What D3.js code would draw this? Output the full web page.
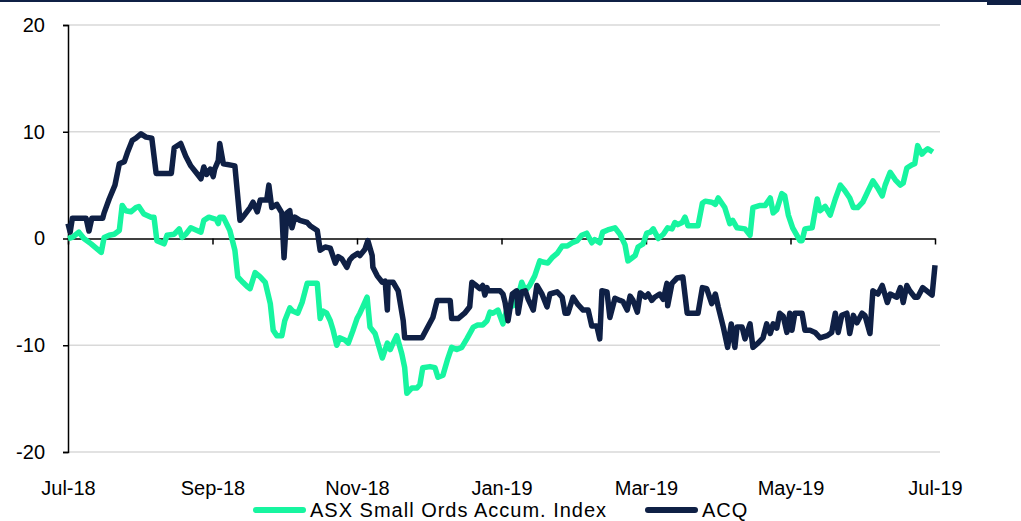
<!DOCTYPE html>
<html>
<head>
<meta charset="utf-8">
<script src="https://cdn.jsdelivr.net/npm/d3@7"></script>
<style>
  body { margin: 0; background: #fff; }
  text { font-family: "Liberation Sans", Arial, sans-serif; }
</style>
</head>
<body>
<div id="chart"></div>
<script>
// x positions are months since Jul-18 (0 .. 12)
const tickLabels = ["Jul-18", "Sep-18", "Nov-18", "Jan-19", "Mar-19", "May-19", "Jul-19"];
const tickMonths = [0, 2, 4, 6, 8, 10, 12];
const yTicks = [-20, -10, 0, 10, 20];
const seriesNames = ["ASX Small Ords Accum. Index", "ACQ"];

const asxMonths = [0.00,0.06,0.15,0.22,0.32,0.46,0.50,0.57,0.64,0.71,0.75,0.80,0.87,0.94,0.98,1.05,1.15,1.19,1.23,1.33,
  1.37,1.47,1.54,1.58,1.63,1.70,1.77,1.84,1.88,1.95,2.05,2.08,2.10,2.15,2.24,2.31,2.35,2.42,2.48,2.52,
  2.59,2.66,2.73,2.80,2.84,2.89,2.96,3.00,3.07,3.11,3.18,3.24,3.31,3.45,3.49,3.53,3.58,3.63,3.67,3.72,
  3.76,3.83,3.88,3.94,4.00,4.04,4.08,4.14,4.18,4.25,4.35,4.42,4.46,4.50,4.55,4.62,4.66,4.69,4.76,4.83,
  4.87,4.91,5.01,5.08,5.12,5.19,5.25,5.31,5.38,5.45,5.52,5.61,5.67,5.74,5.80,5.84,5.88,5.95,6.02,6.08,
  6.16,6.23,6.28,6.33,6.39,6.46,6.53,6.57,6.64,6.70,6.77,6.84,6.91,6.98,7.05,7.11,7.18,7.25,7.29,7.36,
  7.40,7.47,7.57,7.64,7.71,7.75,7.81,7.85,7.89,7.96,8.01,8.06,8.10,8.17,8.24,8.30,8.36,8.40,8.44,8.50,
  8.54,8.58,8.72,8.78,8.82,8.91,8.96,9.00,9.09,9.16,9.20,9.26,9.37,9.44,9.48,9.58,9.65,9.72,9.76,9.81,
  9.88,9.92,9.97,10.03,10.13,10.16,10.20,10.30,10.37,10.41,10.48,10.55,10.62,10.69,10.75,10.82,10.87,10.93,11.00,11.07,
  11.14,11.21,11.27,11.31,11.38,11.45,11.52,11.56,11.61,11.68,11.72,11.76,11.82,11.86,11.90,11.97];
const asxValues = [0.0,0.1,0.6,0.0,-0.5,-1.3,0.1,0.3,0.4,0.75,3.1,2.6,2.5,2.9,3.0,2.3,2.0,2.0,-0.2,-0.5,
  0.3,0.4,0.9,0.1,0.4,1.0,0.8,0.6,1.7,2.0,1.8,1.4,2.0,2.0,0.75,-1.1,-3.6,-4.1,-4.5,-4.7,
  -3.2,-3.6,-4.1,-6.1,-8.6,-9.1,-9.1,-7.7,-6.5,-6.8,-7.0,-6.0,-4.2,-4.2,-7.5,-6.8,-7.0,-7.7,-8.6,-10.0,
  -9.3,-9.5,-9.8,-8.7,-7.5,-7.0,-6.4,-5.5,-8.3,-8.9,-11.2,-9.8,-10.4,-9.8,-9.1,-10.8,-12.1,-14.5,-14.0,-14.0,
  -13.7,-12.1,-12.0,-12.1,-13.0,-12.8,-11.4,-10.2,-10.4,-10.2,-9.4,-8.3,-8.1,-8.1,-7.7,-6.9,-7.0,-6.7,-8.0,-6.5,
  -6.3,-5.4,-4.1,-4.9,-4.4,-3.5,-2.1,-2.2,-2.3,-1.8,-1.4,-0.7,-0.7,-0.4,-0.2,0.3,0.5,-0.4,-0.1,-0.4,
  0.6,0.8,1.0,0.4,-0.6,-2.1,-1.8,-1.6,-0.8,-0.5,0.5,0.6,0.9,0.0,0.4,1.0,0.9,1.5,1.3,1.5,
  2.0,1.2,1.2,3.3,3.5,3.4,3.2,3.8,2.9,1.4,1.7,1.0,0.9,0.3,2.9,3.1,3.1,3.8,2.4,2.7,
  4.2,4.0,2.2,1.0,-0.2,-0.2,0.9,1.0,3.7,2.6,3.0,2.2,3.7,5.0,4.5,3.8,2.9,2.9,3.4,4.4,
  5.4,4.7,4.0,5.0,6.2,5.5,5.0,5.2,6.6,6.9,7.0,8.7,7.9,8.2,8.4,8.1];

const acqMonths = [0.00,0.03,0.06,0.25,0.29,0.33,0.48,0.50,0.57,0.65,0.71,0.78,0.82,0.89,0.94,1.01,1.08,1.16,1.22,1.43,
  1.47,1.56,1.63,1.70,1.77,1.84,1.88,1.92,1.97,2.01,2.03,2.08,2.10,2.15,2.31,2.38,2.42,2.52,2.56,2.62,
  2.66,2.75,2.78,2.82,2.89,2.96,2.99,3.03,3.07,3.10,3.14,3.21,3.31,3.35,3.45,3.49,3.56,3.63,3.70,3.74,
  3.79,3.86,3.90,3.94,4.01,4.04,4.11,4.15,4.21,4.22,4.28,4.35,4.39,4.42,4.43,4.50,4.57,4.64,4.66,4.90,
  4.97,5.05,5.11,5.29,5.31,5.40,5.49,5.56,5.59,5.63,5.70,5.74,5.77,5.80,5.81,5.98,6.02,6.05,6.09,6.15,
  6.21,6.23,6.28,6.33,6.37,6.44,6.49,6.56,6.63,6.67,6.77,6.84,6.88,6.92,6.99,7.06,7.13,7.20,7.25,7.32,
  7.36,7.39,7.46,7.50,7.57,7.64,7.68,7.74,7.78,7.82,7.88,7.92,7.99,8.03,8.08,8.12,8.19,8.24,8.29,8.30,
  8.36,8.43,8.51,8.57,8.72,8.78,8.84,8.91,8.96,9.00,9.07,9.13,9.18,9.23,9.26,9.33,9.37,9.44,9.48,9.55,
  9.62,9.67,9.72,9.76,9.81,9.85,9.90,9.95,9.99,10.02,10.06,10.16,10.20,10.27,10.34,10.41,10.51,10.57,10.62,10.66,
  10.71,10.78,10.82,10.87,10.92,10.99,11.03,11.10,11.14,11.21,11.27,11.34,11.38,11.47,11.52,11.56,11.61,11.65,11.72,11.76,
  11.83,11.96,12.00];
const acqValues = [1.4,0.6,1.9,1.9,0.7,1.9,1.9,2.4,3.7,5.0,7.0,7.2,8.0,9.2,9.4,9.8,9.5,9.4,6.1,6.1,
  8.5,8.9,7.7,6.8,6.2,5.6,6.7,6.0,6.5,5.8,6.5,7.3,8.9,7.0,6.8,1.7,2.0,2.9,3.4,2.5,
  3.6,3.6,5.0,2.9,3.2,2.4,-1.8,2.4,2.6,1.0,2.0,1.7,1.5,1.2,0.75,-1.1,-0.8,-0.9,-2.3,-1.7,
  -1.9,-2.7,-2.0,-1.7,-1.4,-1.6,-1.0,-0.2,-1.6,-2.7,-3.5,-4.1,-4.0,-6.7,-4.1,-4.1,-4.9,-7.7,-9.3,-9.3,
  -8.4,-7.4,-5.8,-5.8,-7.5,-7.5,-7.0,-6.4,-4.1,-4.3,-4.7,-4.4,-5.3,-4.6,-4.9,-4.9,-5.2,-6.0,-7.7,-5.2,
  -4.9,-7.0,-5.0,-4.9,-5.7,-6.7,-4.4,-5.2,-6.4,-5.2,-5.0,-5.5,-7.0,-7.0,-5.5,-6.2,-6.7,-6.7,-8.2,-8.2,
  -9.4,-4.9,-5.0,-7.4,-5.6,-5.8,-5.9,-6.7,-5.4,-5.8,-6.9,-5.1,-5.5,-5.2,-5.8,-5.5,-5.2,-5.7,-4.2,-6.3,
  -4.2,-3.7,-3.6,-7.0,-7.0,-4.6,-4.7,-6.1,-5.2,-6.4,-8.3,-10.2,-8.0,-10.2,-8.3,-8.3,-9.4,-8.0,-10.2,-9.8,
  -9.3,-8.0,-8.9,-8.0,-8.4,-7.0,-7.3,-8.8,-7.0,-8.6,-7.0,-7.0,-8.6,-8.6,-8.8,-9.3,-9.1,-8.8,-7.0,-8.8,
  -7.2,-7.0,-8.9,-7.2,-7.9,-7.0,-7.2,-8.9,-4.9,-5.2,-4.4,-6.0,-5.2,-5.5,-4.6,-6.0,-4.4,-4.9,-5.5,-5.5,
  -4.6,-5.3,-2.5];

const green = "#17F5A0";
const navy = "#0F2045";

const W = 1021, H = 521;
const svg = d3.select("#chart").append("svg").attr("width", W).attr("height", H);

const x = d3.scaleLinear().domain([0, 12]).range([68, 935]);
const y = d3.scaleLinear().domain([-20, 20]).range([452, 25]);

// top banner line
svg.append("rect").attr("x", 0).attr("y", 0).attr("width", W).attr("height", 2).attr("fill", navy);
svg.append("rect").attr("x", 987).attr("y", 0).attr("width", W - 987).attr("height", 5).attr("fill", navy);

// gridlines
svg.append("g")
  .selectAll("line")
  .data(yTicks.filter(d => d !== 0))
  .join("line")
  .attr("x1", x(0)).attr("x2", x(12) + 5)
  .attr("y1", d => y(d)).attr("y2", d => y(d))
  .attr("stroke", "#d9d9d9")
  .attr("stroke-width", 1.5);

// y axis
const yAxis = svg.append("g")
  .attr("transform", `translate(${x(0)},0)`)
  .call(d3.axisLeft(y).tickValues(yTicks).tickSize(5).tickPadding(18).tickFormat(d => String(d)));
yAxis.select(".domain").attr("stroke", "#000").attr("stroke-width", 1.5);
yAxis.selectAll(".tick line").attr("stroke", "#000").attr("stroke-width", 1.5);
yAxis.selectAll("text").attr("font-size", 20).attr("fill", "#000")
  .style("font-family", "'Liberation Sans', Arial, sans-serif");

// x axis on zero line
const xAxis = svg.append("g")
  .attr("transform", `translate(0,${y(0)})`)
  .call(d3.axisBottom(x).tickValues(tickMonths).tickSize(6).tickSizeOuter(0).tickFormat((d, i) => tickLabels[i]));
xAxis.select(".domain").attr("stroke", "#000").attr("stroke-width", 1.5);
xAxis.selectAll(".tick line").attr("stroke", "#000").attr("stroke-width", 1.5);
xAxis.selectAll("text")
  .attr("y", y(-20) - y(0) + 43)
  .attr("dy", 0)
  .attr("font-size", 20).attr("fill", "#000")
  .style("font-family", "'Liberation Sans', Arial, sans-serif");

// series
const line = d3.line()
  .x(d => x(d[0]))
  .y(d => y(d[1]));

const asx = asxMonths.map((m, i) => [m, asxValues[i]]);
const acq = acqMonths.map((m, i) => [m, acqValues[i]]);

svg.append("path").datum(asx)
  .attr("d", line)
  .attr("fill", "none")
  .attr("stroke", green)
  .attr("stroke-width", 5.5)
  .attr("stroke-linejoin", "round");

svg.append("path").datum(acq)
  .attr("d", line)
  .attr("fill", "none")
  .attr("stroke", navy)
  .attr("stroke-width", 5.5)
  .attr("stroke-linejoin", "round");

// legend
const legend = svg.append("g").attr("transform", "translate(0,510)");
const legendItems = [
  { name: seriesNames[0], color: green, x0: 253 },
  { name: seriesNames[1], color: navy, x0: 645 }
];
legendItems.forEach(item => {
  legend.append("line")
    .attr("x1", item.x0 + 3).attr("x2", item.x0 + 50)
    .attr("y1", 0).attr("y2", 0)
    .attr("stroke", item.color)
    .attr("stroke-width", 6)
    .attr("stroke-linecap", "round");
  legend.append("text")
    .attr("x", item.x0 + 57)
    .attr("y", 7)
    .attr("font-size", 20)
    .attr("letter-spacing", 1)
    .attr("fill", "#000")
    .text(item.name);
});
</script>
</body>
</html>
